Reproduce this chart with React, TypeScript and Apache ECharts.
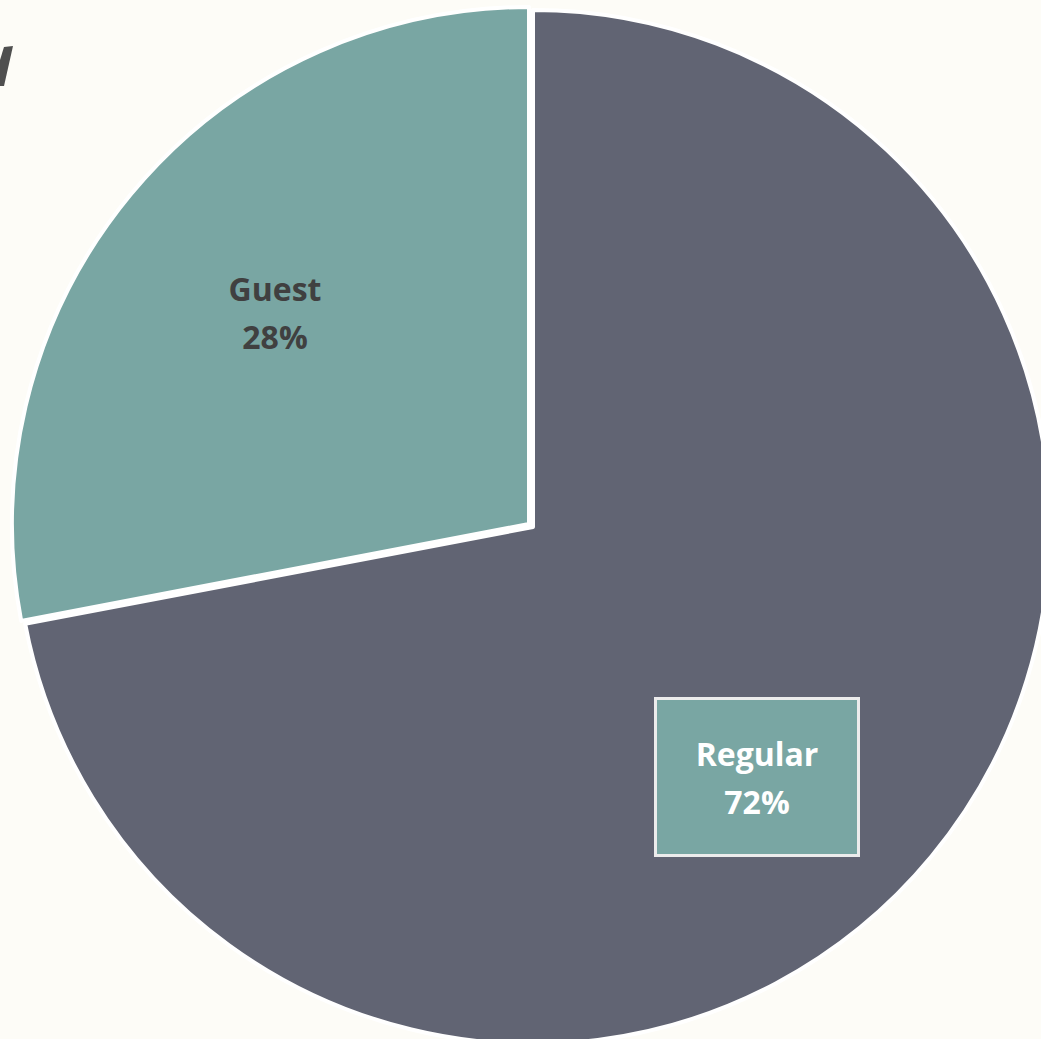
import React, { useEffect, useRef } from "react";
import * as echarts from "echarts";

const categories = ["Regular", "Guest"];
const values = [72, 28];
const colors = ["#616473", "#79a6a3"];
const labelPositions = [
  [757, 777],
  [275, 312],
];
// Guest slice is pulled out (exploded) from the centre of the pie
const explodedIndex = 1;
const pieCenter = [533, 527];
const explodeShift = [-4, -3];

export default function App() {
  const ref = useRef<HTMLDivElement>(null);
  useEffect(() => {
    if (!ref.current) return;
    const chart = echarts.init(ref.current, undefined, { renderer: "svg" });

    const labelStyles: any[] = [
      {
        color: "#ffffff",
        backgroundColor: "#79a6a3",
        borderColor: "#ececec",
        borderWidth: 3,
        width: 130,
        overflow: "none",
        padding: [29, 35],
      },
      { color: "#404040" },
    ];

    const makeData = (visibleIndex: (i: number) => boolean) =>
      categories.map((name, i) => {
        const vis = visibleIndex(i);
        return {
          name,
          value: values[i],
          itemStyle: vis
            ? { color: colors[i], borderColor: "#ffffff", borderWidth: 4 }
            : { color: "transparent", borderWidth: 0 },
          label: vis ? { show: true, ...labelStyles[i] } : { show: false },
        };
      });

    const baseSeries = {
      type: "pie",
      radius: 517,
      startAngle: 90,
      clockwise: true,
      silent: true,
      emphasis: { disabled: true },
      label: {
        show: true,
        position: "inside",
        formatter: "{b}\n{d}%",
        fontFamily: "Open Sans",
        fontWeight: "bold",
        fontSize: 32,
        lineHeight: 48,
        align: "center",
        verticalAlign: "middle",
      },
      labelLine: { show: false },
      labelLayout: (params: any) => ({
        x: labelPositions[params.dataIndex][0],
        y: labelPositions[params.dataIndex][1],
      }),
    };

    chart.setOption({
      animation: false,
      backgroundColor: "#fdfcf7",
      graphic: [
        {
          type: "polygon",
          shape: {
            points: [
              [4, 47],
              [13, 46],
              [4, 86],
              [0, 86],
              [0, 60],
            ],
          },
          style: { fill: "#4f4f4f" },
        },
      ],
      series: [
        {
          ...baseSeries,
          center: pieCenter,
          data: makeData((i) => i !== explodedIndex),
        },
        {
          ...baseSeries,
          center: [pieCenter[0] + explodeShift[0], pieCenter[1] + explodeShift[1]],
          data: makeData((i) => i === explodedIndex),
        },
      ],
    });
    return () => chart.dispose();
  }, []);
  return (
    <div
      ref={ref}
      style={{ position: "fixed", left: 0, top: 0, width: 1041, height: 1039 }}
    />
  );
}
